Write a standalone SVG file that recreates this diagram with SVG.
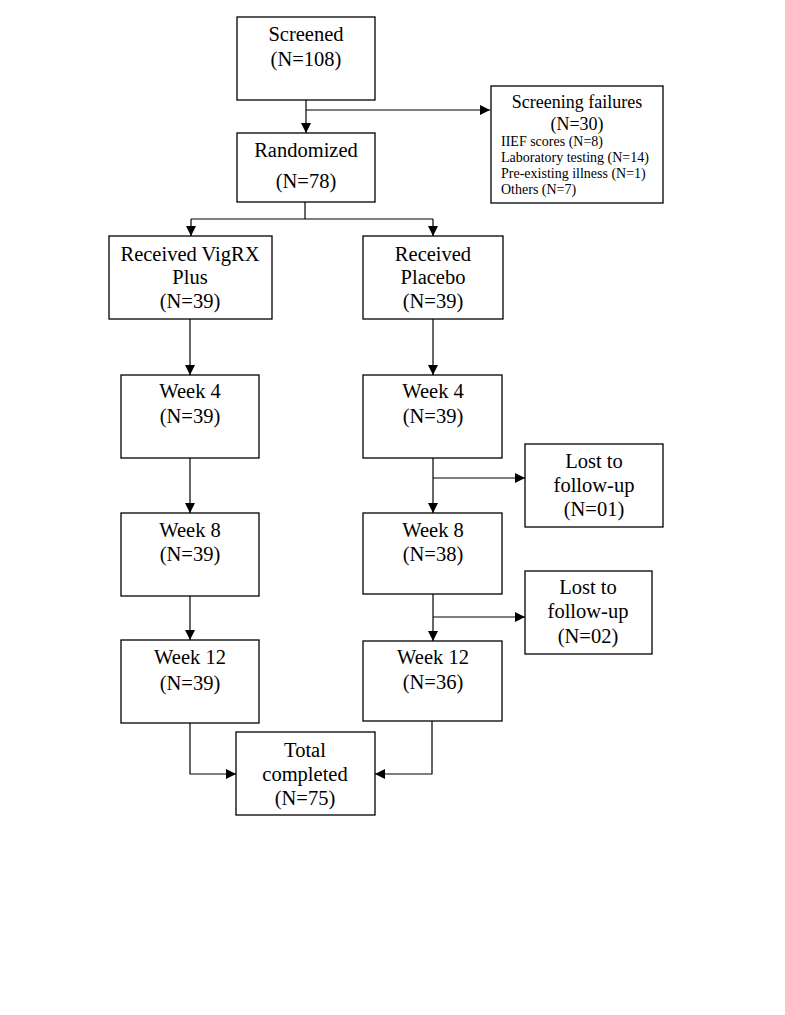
<svg xmlns="http://www.w3.org/2000/svg" width="785" height="1015" viewBox="0 0 785 1015">
<defs>
<marker id="ah" viewBox="0 0 10 10" refX="10" refY="5" markerWidth="10" markerHeight="10" markerUnits="userSpaceOnUse" orient="auto">
<path d="M0,0 L10,5 L0,10 Z" fill="#000"/>
</marker>
<style>
.box{fill:#fff;stroke:#000;stroke-width:1.3}
.t{font-family:"Liberation Serif","Times New Roman",serif;font-size:20.5px;text-anchor:middle;fill:#000}
.m{font-family:"Liberation Serif","Times New Roman",serif;font-size:18px;text-anchor:middle;fill:#000}
.s{font-family:"Liberation Serif","Times New Roman",serif;font-size:14px;fill:#000}
.c{fill:none;stroke:#000;stroke-width:1.2}
</style>
</defs>
<rect width="785" height="1015" fill="#fff"/>
<g id="connectors">
<path class="c" d="M306,100 V133" marker-end="url(#ah)"/>
<path class="c" d="M306,110 H490" marker-end="url(#ah)"/>
<path class="c" d="M305,202 V219"/>
<path class="c" d="M191,219 H433"/>
<path class="c" d="M191,219 V236" marker-end="url(#ah)"/>
<path class="c" d="M433,219 V236" marker-end="url(#ah)"/>
<path class="c" d="M190,319 V375" marker-end="url(#ah)"/>
<path class="c" d="M433,319 V375" marker-end="url(#ah)"/>
<path class="c" d="M190,458 V513" marker-end="url(#ah)"/>
<path class="c" d="M433,458 V513" marker-end="url(#ah)"/>
<path class="c" d="M433,478 H525" marker-end="url(#ah)"/>
<path class="c" d="M190,596 V640" marker-end="url(#ah)"/>
<path class="c" d="M433,594 V641" marker-end="url(#ah)"/>
<path class="c" d="M433,617 H525" marker-end="url(#ah)"/>
<path class="c" d="M190,723 V774 H236" marker-end="url(#ah)"/>
<path class="c" d="M432,721 V774 H375" marker-end="url(#ah)"/>
</g>
<g id="screened">
<rect class="box" x="237" y="17" width="138" height="83"/>
<text class="t" x="306" y="41">Screened</text>
<text class="t" x="306" y="66">(N=108)</text>
</g>
<g id="screening-failures">
<rect class="box" x="491" y="86" width="172" height="117"/>
<text class="m" x="577" y="108">Screening failures</text>
<text class="m" x="577" y="130">(N=30)</text>
<text class="s" x="501" y="146">IIEF scores (N=8)</text>
<text class="s" x="501" y="162">Laboratory testing (N=14)</text>
<text class="s" x="501" y="178">Pre-existing illness (N=1)</text>
<text class="s" x="501" y="194">Others (N=7)</text>
</g>
<g id="randomized">
<rect class="box" x="237" y="133" width="138" height="69"/>
<text class="t" x="306" y="157">Randomized</text>
<text class="t" x="306" y="188">(N=78)</text>
</g>
<g id="vigrx">
<rect class="box" x="109" y="236" width="163" height="83"/>
<text class="t" x="190" y="261">Received VigRX</text>
<text class="t" x="190" y="284">Plus</text>
<text class="t" x="190" y="308">(N=39)</text>
</g>
<g id="placebo">
<rect class="box" x="363" y="236" width="140" height="83"/>
<text class="t" x="433" y="261">Received</text>
<text class="t" x="433" y="284">Placebo</text>
<text class="t" x="433" y="308">(N=39)</text>
</g>
<g id="week4-left">
<rect class="box" x="121" y="375" width="138" height="83"/>
<text class="t" x="190" y="398">Week 4</text>
<text class="t" x="190" y="423">(N=39)</text>
</g>
<g id="week4-right">
<rect class="box" x="363" y="375" width="139" height="83"/>
<text class="t" x="433" y="398">Week 4</text>
<text class="t" x="433" y="423">(N=39)</text>
</g>
<g id="lost1">
<rect class="box" x="525" y="444" width="138" height="83"/>
<text class="t" x="594" y="468">Lost to</text>
<text class="t" x="594" y="492">follow-up</text>
<text class="t" x="594" y="516">(N=01)</text>
</g>
<g id="week8-left">
<rect class="box" x="121" y="513" width="138" height="83"/>
<text class="t" x="190" y="537">Week 8</text>
<text class="t" x="190" y="561">(N=39)</text>
</g>
<g id="week8-right">
<rect class="box" x="363" y="513" width="139" height="81"/>
<text class="t" x="433" y="537">Week 8</text>
<text class="t" x="433" y="561">(N=38)</text>
</g>
<g id="lost2">
<rect class="box" x="525" y="571" width="127" height="83"/>
<text class="t" x="588" y="594">Lost to</text>
<text class="t" x="588" y="618">follow-up</text>
<text class="t" x="588" y="643">(N=02)</text>
</g>
<g id="week12-left">
<rect class="box" x="121" y="640" width="138" height="83"/>
<text class="t" x="190" y="664">Week 12</text>
<text class="t" x="190" y="690">(N=39)</text>
</g>
<g id="week12-right">
<rect class="box" x="363" y="641" width="139" height="80"/>
<text class="t" x="433" y="664">Week 12</text>
<text class="t" x="433" y="689">(N=36)</text>
</g>
<g id="total">
<rect class="box" x="236" y="732" width="139" height="83"/>
<text class="t" x="305" y="757">Total</text>
<text class="t" x="305" y="781">completed</text>
<text class="t" x="305" y="805">(N=75)</text>
</g>
</svg>
